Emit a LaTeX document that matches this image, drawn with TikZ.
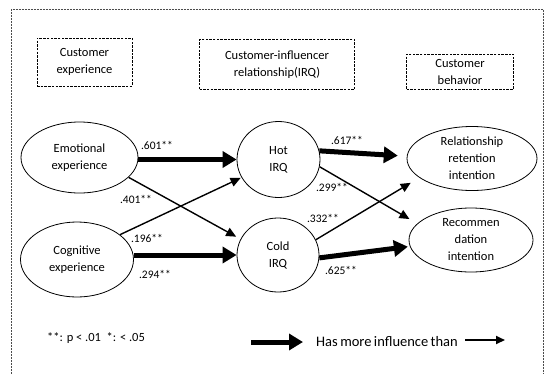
\documentclass[tikz,border=0pt]{standalone}
\usepackage{fontspec}
\setmainfont{Carlito}
\usetikzlibrary{shapes.geometric,arrows.meta}
\begin{document}
\begin{tikzpicture}[x=1pt,y=-1pt,
  txt/.style={font=\fontsize{12.5}{17}\selectfont, align=center, text=black},
  ell/.style={ellipse, draw, line width=0.8pt, inner sep=0pt, txt},
  hdr/.style={draw, line width=0.9pt, dash pattern=on 2.5pt off 1.2pt, inner sep=0pt, txt},
  lbl/.style={font=\fontsize{11.5}{13}\selectfont, text=black, inner sep=0pt},
  thickarr/.style={line width=5pt, -{Triangle[length=14pt,width=16pt]}},
  thinarr/.style={line width=1.4pt, -{Triangle[length=10pt,width=9pt]}},
  border/.style={draw=black!70, line width=0.9pt, dash pattern=on 2pt off 1pt}
]
\useasboundingbox (0,0) rectangle (547,373);
% outer dashed frame (open at bottom)
\coordinate (fbl) at (11.5,380);
\coordinate (ftl) at (11.5,9);
\coordinate (ftr) at (543,9);
\coordinate (fbr) at (543,380);
\draw[border] (fbl) -- (ftl) -- (ftr) -- (fbr);

% header boxes
\node[hdr, minimum width=95pt, minimum height=48pt] (h1) at (84.5,62) {Customer\\experience};
\node[hdr, minimum width=155pt, minimum height=50pt] (h2) at (277,64.5) {Customer-influencer\\relationship(IRQ)};
\node[hdr, minimum width=107pt, minimum height=35pt] (h3) at (460,71.5) {Customer\\behavior};

% ellipses
\node[ell, minimum width=117pt, minimum height=71pt] (emo) at (79.5,157.5) {Emotional\\experience};
\node[ell, minimum width=113pt, minimum height=75pt] (cog) at (77,259.5) {Cognitive\\experience};
\node[ell, minimum width=83pt, minimum height=76pt] (hot) at (278.5,159.5) {Hot\\IRQ};
\node[ell, minimum width=82pt, minimum height=74pt] (cold) at (278,255) {Cold\\IRQ};
\node[ell, minimum width=130pt, minimum height=64pt] (rel) at (472,158.5) {Relationship\\retention\\intention};
\node[ell, minimum width=124pt, minimum height=64pt] (rec) at (471,240) {Recommen\\dation\\intention};

% arrows
\draw[thickarr] (emo.east |- hot.west) -- (hot.west);
\draw[thinarr, shorten >=5pt] (emo.-22) -- (cold.157);
\draw[thinarr, shorten >=1pt] (cog.30) -- (hot.206);
\draw[thickarr] (cog.east |- cold.west) -- (cold.west);
\draw[thickarr, shorten >=9pt] (hot.12) -- (rel.178);
\draw[thinarr, shorten >=9pt] (hot.-10) -- (rec.163);
\draw[thinarr, shorten >=10pt] (cold.22) -- (rel.200);
\draw[thickarr, shorten >=2pt] (cold.-4) -- (rec.186);

% coefficient labels
\node[lbl] (l1) at (157,145) {.601**};
\node[lbl] (l2) at (136,199) {.401**};
\node[lbl] (l3) at (147,238) {.196**};
\node[lbl] (l4) at (155,274) {.294**};
\node[lbl] (l5) at (347,140) {.617**};
\node[lbl] (l6) at (332,187) {.299**};
\node[lbl] (l7) at (323,218) {.332**};
\node[lbl] (l8) at (341,270) {.625**};

% legend
\node[lbl, anchor=west, font=\fontsize{12.5}{14}\selectfont] (sig) at (47,338) {**: p {\textless} .01\ \ *: {\textless} .05};
\coordinate (la1) at (251,342);
\coordinate (la2) at (303,342);
\draw[thickarr] (la1) -- (la2);
\node[lbl, anchor=west, font=\fontsize{14.5}{16}\selectfont] (leg) at (316,342) {Has\,more\,influence\,than};
\coordinate (lb1) at (465,340);
\coordinate (lb2) at (505,340);
\draw[line width=2pt, -{Triangle[length=9pt,width=8pt]}] (lb1) -- (lb2);
\end{tikzpicture}
\end{document}
